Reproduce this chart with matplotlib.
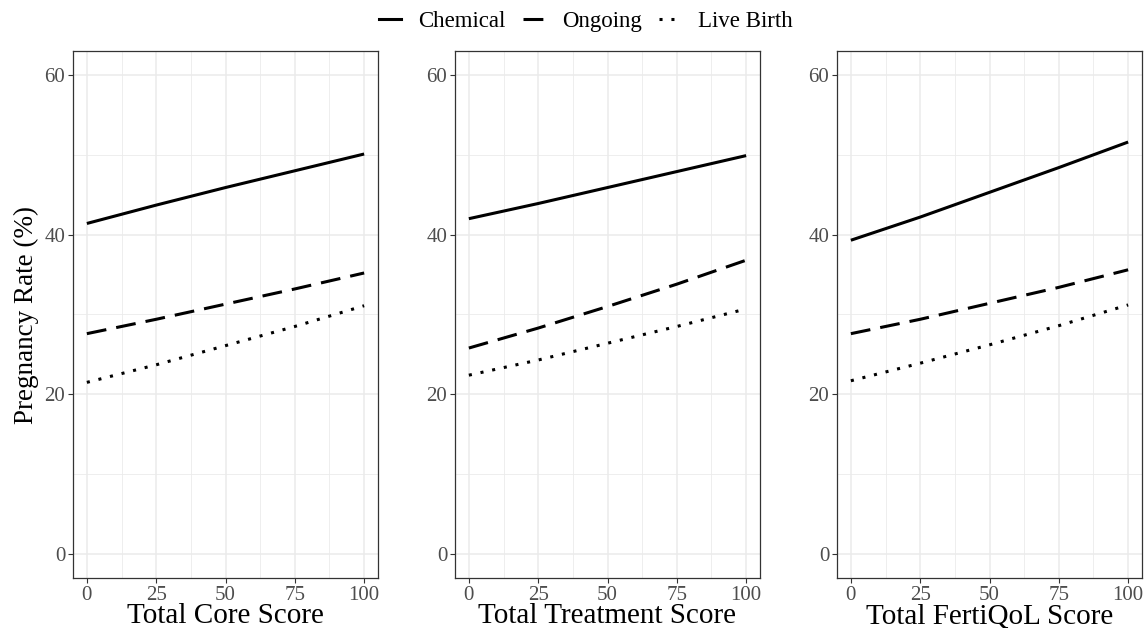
import numpy as np
import matplotlib
matplotlib.use("Agg")
import matplotlib.pyplot as plt
from matplotlib.lines import Line2D

plt.rcParams['font.family'] = ['Liberation Serif', 'DejaVu Serif']

# scores on the x axis
score = [0, 25, 50, 75, 100]

# predicted pregnancy rate (%)
core_chemical = [41.4, 43.7, 45.9, 48.0, 50.1]
core_ongoing = [27.6, 29.4, 31.3, 33.2, 35.2]
core_live = [21.5, 23.7, 26.1, 28.5, 31.1]

treat_chemical = [42.0, 43.9, 45.9, 47.9, 49.9]
treat_ongoing = [25.8, 28.3, 31.0, 33.8, 36.8]
treat_live = [22.4, 24.3, 26.4, 28.5, 30.7]

ferti_chemical = [39.3, 42.2, 45.3, 48.4, 51.6]
ferti_ongoing = [27.6, 29.4, 31.4, 33.4, 35.6]
ferti_live = [21.7, 23.9, 26.2, 28.6, 31.2]

panel_titles = ["Total Core Score", "Total Treatment Score", "Total FertiQoL Score"]
series_names = ["Chemical", "Ongoing", "Live Birth"]
panels = [
    (core_chemical, core_ongoing, core_live),
    (treat_chemical, treat_ongoing, treat_live),
    (ferti_chemical, ferti_ongoing, ferti_live),
]

W, H = 1147, 628
fig = plt.figure(figsize=(W / 100, H / 100), dpi=100)

lefts = [73, 455, 837]
pw = 305
top, bottom = 51, 578

lw = 2.2
styles = [dict(ls='-'), dict(ls=(0, (6.5, 3.3))), dict(ls=(0, (1, 2.9)))]

tick_col = '#4D4D4D'
grid_col = '#EBEBEB'

for i, (lx, data) in enumerate(zip(lefts, panels)):
    ax = fig.add_axes([lx / W, 1 - bottom / H, pw / W, (bottom - top) / H])
    ax.set_xlim(-5, 105)
    ax.set_ylim(-3, 63)
    ax.set_xticks([0, 25, 50, 75, 100])
    ax.set_yticks([0, 20, 40, 60])
    ax.set_xticks([12.5, 37.5, 62.5, 87.5], minor=True)
    ax.set_yticks([10, 30, 50], minor=True)
    ax.grid(which='major', color=grid_col, lw=1.1)
    ax.grid(which='minor', color=grid_col, lw=0.6)
    ax.set_axisbelow(True)
    ax.tick_params(which='minor', length=0)
    ax.tick_params(which='major', length=3.5, width=0.8, color='#333333',
                   labelsize=15, labelcolor=tick_col, pad=2)
    for s in ax.spines.values():
        s.set_color('#333333')
        s.set_linewidth(0.9)
    for y, st in zip(data, styles):
        ax.plot(score, y, color='black', lw=lw, solid_capstyle='butt',
                dash_capstyle='butt', **st)
    ax.set_xlabel(panel_titles[i], fontsize=21, labelpad=-1)
    if i == 0:
        ax.set_ylabel("Pregnancy Rate (%)", fontsize=19.5, labelpad=4)

handles = [Line2D([], [], color='black', lw=lw, **st) for st in styles]
fig.legend(handles, series_names, loc='center', bbox_to_anchor=(0.511, 1 - 21 / H),
           ncol=3, frameon=False, fontsize=16.5, handlelength=0.96,
           handletextpad=0.75, columnspacing=0.75)

fig.savefig("out.png", dpi=100)
